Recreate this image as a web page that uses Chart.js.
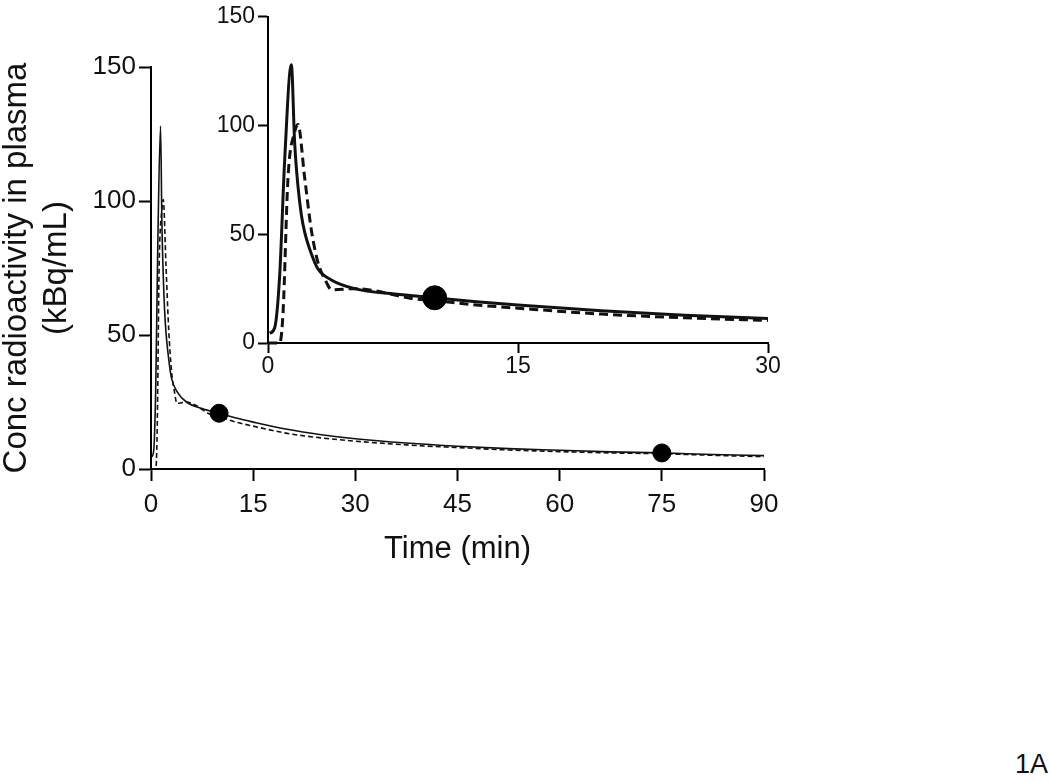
<!DOCTYPE html>
<html>
<head>
<meta charset="utf-8">
<script src="https://cdn.jsdelivr.net/npm/chart.js@4.4.1/dist/chart.umd.min.js"></script>
<style>
  body { margin: 0; background: #fff; width: 1050px; height: 781px; position: relative; overflow: hidden; }
  #mainBox { position: absolute; left: 0; top: 0; width: 800px; height: 580px; }
  #insetBox { position: absolute; left: 200px; top: 0; width: 600px; height: 390px; }
  #panel { position: absolute; right: 2px; top: 749px; font: 27px "Liberation Sans", Arial, sans-serif; color: #111; }
</style>
</head>
<body>
<div id="mainBox"><canvas id="mainChart"></canvas></div>
<div id="insetBox"><canvas id="insetChart"></canvas></div>
<div id="panel">1A</div>
<script>
// solid curve (min, kBq/mL)
const solidTimes = [0.1, 0.4, 0.7, 1.0, 1.4, 1.6, 1.8, 2.0, 2.2, 2.6, 3.0, 3.8, 5.2, 7.6, 10, 12.5, 15, 20, 25, 30, 37.5, 45, 52.5, 60, 67.5, 75, 82.5, 90];
const solidConc = [4.5, 7, 31, 84, 128, 92, 72, 59, 51, 41, 34, 29, 25, 22.5, 20.8, 19, 17.5, 14.8, 12.8, 11.3, 9.7, 8.5, 7.6, 7, 6.4, 6, 5.4, 5];

// dashed curve
const dashedTimes = [0, 0.7, 0.9, 1.2, 1.6, 1.8, 2.2, 2.6, 3.0, 3.5, 3.8, 5.2, 6.4, 8.6, 10, 12.5, 15, 20, 25, 30, 37.5, 45, 52.5, 60, 67.5, 75, 82.5, 90];
const dashedConc = [0, 0, 13.5, 76, 97, 100.5, 76, 52, 37, 28, 24.5, 25, 24, 20.5, 19.5, 17.5, 16, 13.3, 11.6, 10.4, 9, 8, 7.1, 6.5, 6, 5.7, 5.1, 4.6];

// sampled points
const sampleTimes = [10, 75];
const sampleConc = [20.8, 6];

const yTicks = [0, 50, 100, 150];

const toXY = (xs, ys) => xs.map((x, i) => ({ x: x, y: ys[i] }));
const FONT = '"Liberation Sans", Arial, sans-serif';
const INK = '#111';

function makeChart(canvasId, opts) {
  return new Chart(document.getElementById(canvasId), {
    type: 'scatter',
    data: {
      datasets: [
        {
          data: toXY(sampleTimes, sampleConc),
          backgroundColor: '#000',
          borderColor: '#000',
          pointRadius: opts.markerRadius,
          showLine: false,
          clip: opts.clip,
        },
        {
          data: toXY(solidTimes, solidConc),
          showLine: true,
          borderColor: INK,
          borderWidth: opts.lineWidth,
          pointRadius: 0,
          cubicInterpolationMode: 'monotone',
          clip: opts.clip,
        },
        {
          data: toXY(dashedTimes, dashedConc),
          showLine: true,
          borderColor: INK,
          borderWidth: opts.lineWidth,
          borderDash: opts.dash,
          pointRadius: 0,
          cubicInterpolationMode: 'monotone',
          clip: opts.clip,
        },
      ],
    },
    options: {
      responsive: true,
      maintainAspectRatio: false,
      animation: false,
      layout: { padding: opts.padding },
      plugins: { legend: { display: false }, tooltip: { enabled: false } },
      scales: {
        x: {
          type: 'linear',
          min: 0,
          max: opts.xMax,
          afterFit: (s) => { s.height = opts.xHeight; },
          grid: { drawOnChartArea: false, drawTicks: true, tickLength: opts.tick, tickColor: '#000', tickWidth: 2 },
          border: { display: true, color: '#000', width: 2 },
          ticks: { stepSize: 15, padding: opts.xPad, color: INK, font: { family: FONT, size: opts.tickFont } },
          title: opts.xTitle,
        },
        y: {
          min: 0,
          max: 150,
          afterFit: (s) => { s.width = opts.yWidth; },
          afterBuildTicks: (s) => { s.ticks = yTicks.map((v) => ({ value: v })); },
          grid: { drawOnChartArea: false, drawTicks: true, tickLength: opts.tick, tickColor: '#000', tickWidth: 2 },
          border: { display: true, color: '#000', width: 2 },
          ticks: { padding: opts.yPad, color: INK, font: { family: FONT, size: opts.tickFont } },
          title: opts.yTitle,
        },
      },
    },
  });
}

makeChart('mainChart', {
  markerRadius: 9,
  lineWidth: 1.6,
  dash: [5, 3],
  clip: { left: 4, top: 4, right: 4, bottom: 4 },
  padding: { left: 0, top: 67, right: 36, bottom: 0 },
  xMax: 90,
  xHeight: 111,
  yWidth: 151,
  tick: 12,
  tickFont: 26,
  xPad: 8,
  yPad: 3,
  xTitle: {
    display: true,
    text: 'Time (min)',
    color: INK,
    font: { family: FONT, size: 31, lineHeight: 1.2 },
    padding: { top: 0, bottom: 12 },
  },
  yTitle: {
    display: true,
    text: ['Conc radioactivity in plasma', '(kBq/mL)'],
    color: INK,
    font: { family: FONT, size: 33, lineHeight: 1.22 },
    padding: { top: -3, bottom: 0 },
  },
});

makeChart('insetChart', {
  markerRadius: 12,
  lineWidth: 3,
  dash: [9, 5],
  clip: { left: 4, top: 4, right: 0, bottom: 4 },
  padding: { left: 0, top: 10, right: 32, bottom: 0 },
  xMax: 30,
  xHeight: 47,
  yWidth: 68,
  tick: 10,
  tickFont: 23,
  xPad: 0,
  yPad: 3,
  xTitle: { display: false },
  yTitle: { display: false },
});
</script>
</body>
</html>
